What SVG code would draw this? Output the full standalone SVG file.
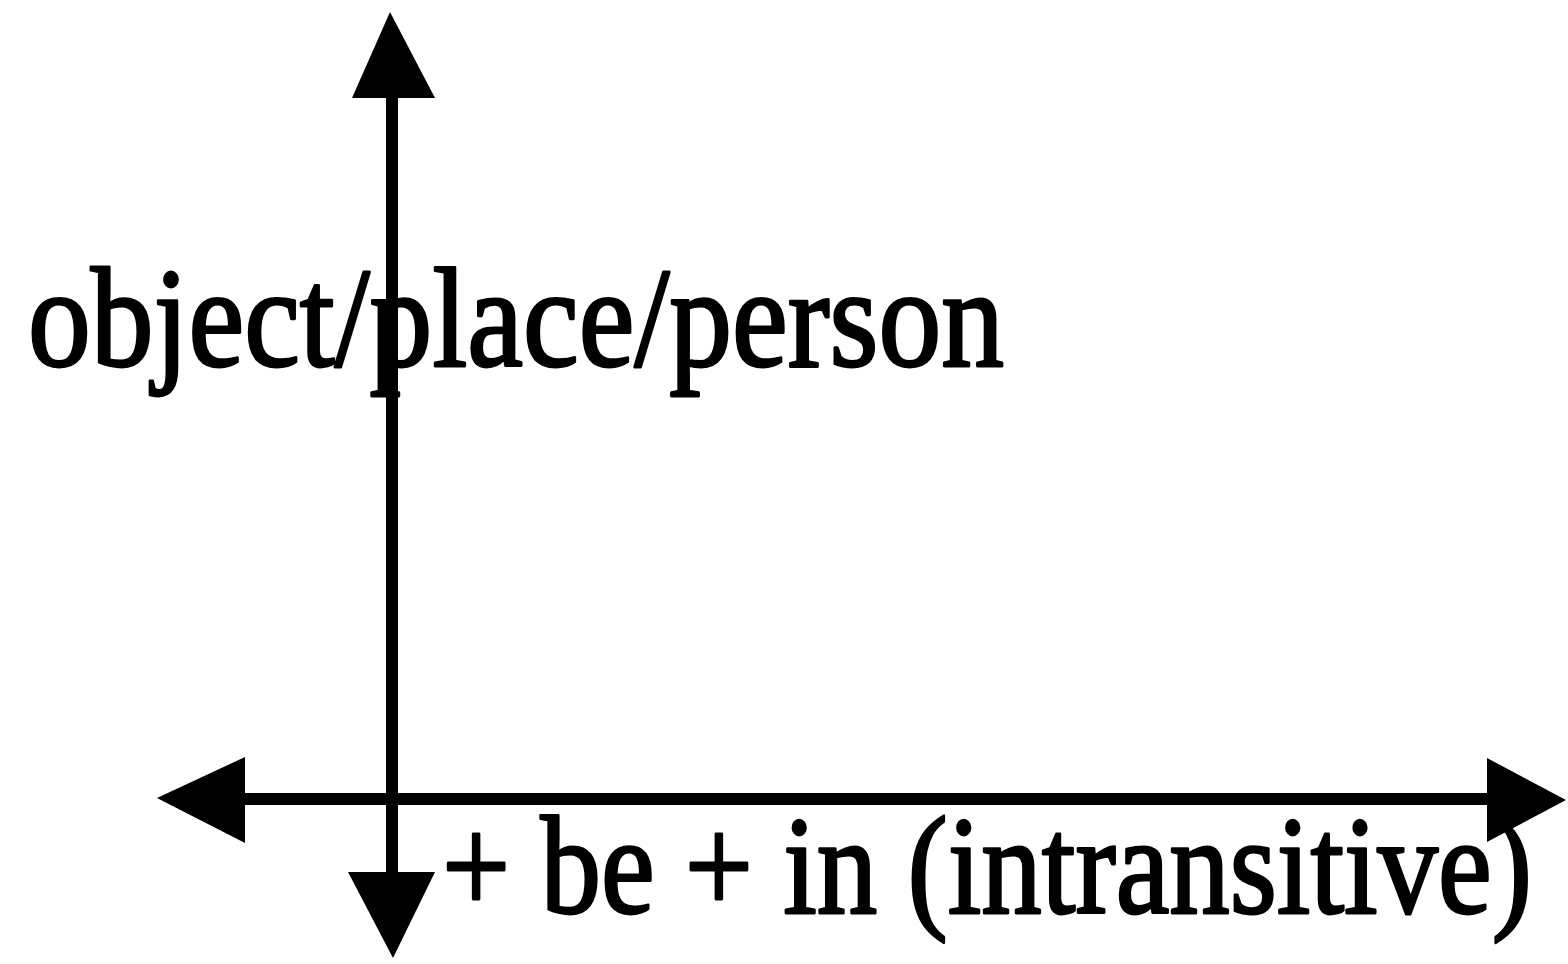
<svg xmlns="http://www.w3.org/2000/svg" width="1568" height="964" viewBox="0 0 1568 964">
<style>
.axis{stroke:#000;stroke-width:12;fill:none}
.head{fill:#000}
.lbl{font-size:124px;fill:#000;stroke:#000;stroke-width:2.5;stroke-linejoin:round}
</style>
<rect width="1568" height="964" fill="#fff"/>
<g id="connectors">
<line class="axis" x1="392" y1="95" x2="392" y2="876"/>
<line class="axis" x1="242" y1="799" x2="1490" y2="799"/>
<polygon class="head" points="390,12 352,98 435,98"/>
<polygon class="head" points="393,958 348,872 435,872"/>
<polygon class="head" points="157,798 245,757 245,843"/>
<polygon class="head" points="1566,800 1487,758 1487,842"/>
</g>
<g id="label-y">
<text class="lbl" font-family="Liberation Serif, Times New Roman, serif" transform="translate(28,366) scale(1,1.14)" x="0" y="0" textLength="976" lengthAdjust="spacingAndGlyphs">object/place/person</text>
</g>
<g id="label-x">
<text class="lbl" font-family="Liberation Serif, Times New Roman, serif" transform="translate(442,913) scale(1,1.12)" x="0" y="0" textLength="1090" lengthAdjust="spacingAndGlyphs">+ be + in (intransitive)</text>
</g>
</svg>
